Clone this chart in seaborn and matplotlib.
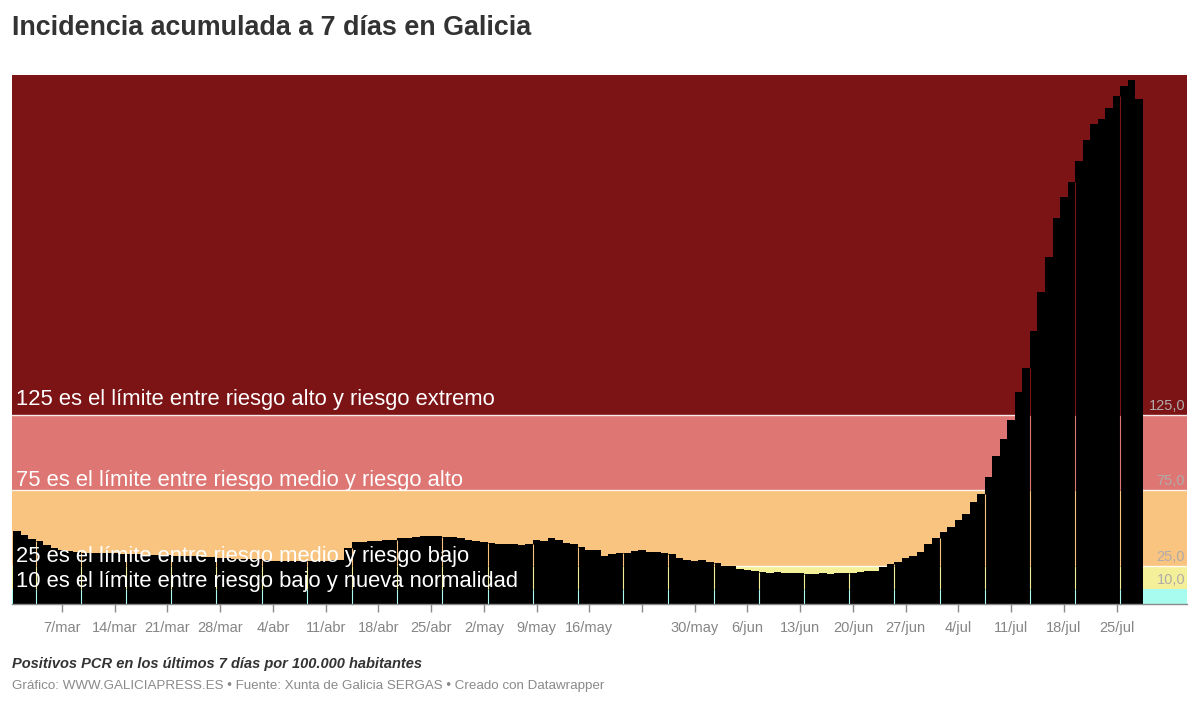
import numpy as np
import pandas as pd
import matplotlib
matplotlib.use("Agg")
import matplotlib.pyplot as plt
import seaborn as sns

# ---------------- data ----------------
incidencia = [
    48.2, 45.5, 42.9, 41.8, 39.0, 37.2, 35.8, 35.0, 34.6, 33.9,
    33.6, 33.8, 33.5, 33.4, 33.2, 32.9, 32.8, 32.7, 32.6, 32.5,
    32.2, 31.8, 31.6, 31.5, 31.4, 31.2, 30.8, 30.3, 30.1, 29.9,
    29.8, 29.6, 29.5, 29.1, 28.6, 28.4, 28.3, 28.2, 28.1, 28.3,
    28.4, 28.6, 28.8, 29.2, 37.0,
    40.7, 40.7, 41.8, 41.8, 42.2, 42.2, 43.3, 43.3, 44.2, 44.7,
    44.7, 44.7, 44.4, 44.4, 43.5, 42.5, 41.6, 40.7, 40.0, 39.8,
    39.5, 39.5, 39.3, 39.6, 42.2, 41.8, 43.5, 42.0, 40.5, 39.6,
    37.4, 35.6, 35.6, 31.7, 33.0, 33.4, 33.9, 35.2, 35.6, 34.3,
    34.3, 33.4, 32.8, 30.6, 29.0, 28.4, 28.8, 27.7, 26.9, 25.1,
    25.1, 23.3, 22.4, 21.8, 21.1, 20.2, 20.9, 20.2, 20.2, 20.2,
    19.8, 19.8, 20.5, 19.8, 20.2, 20.2,
    20.2, 20.9, 21.8, 21.8, 24.6, 26.2, 27.5, 30.4, 31.7, 34.5,
    39.6, 43.8, 47.3, 50.6, 55.4, 59.4, 67.1, 72.6, 83.6, 97.7,
    108.9, 121.5, 140.1, 155.6, 180.2, 206.1, 229.3, 255.2, 268.9, 278.8,
    292.6, 306.3, 316.8, 320.1, 327.6, 335.3, 342.1, 346.3, 333.8,
]
fechas = pd.date_range("2021-03-01", periods=len(incidencia), freq="D")

umbrales = [10, 25, 75, 125]
umbral_labels = ["10,0", "25,0", "75,0", "125,0"]
umbral_textos = [
    "10 es el límite entre riesgo bajo y nueva normalidad",
    "25 es el límite entre riesgo medio y riesgo bajo",
    "75 es el límite entre riesgo medio y riesgo alto",
    "125 es el límite entre riesgo alto y riesgo extremo",
]
tick_labels = ["7/mar", "14/mar", "21/mar", "28/mar", "4/abr", "11/abr", "18/abr",
               "25/abr", "2/may", "9/may", "16/may", "", "30/may", "6/jun",
               "13/jun", "20/jun", "27/jun", "4/jul", "11/jul", "18/jul", "25/jul"]

titulo = "Incidencia acumulada a 7 días en Galicia"
nota = "Positivos PCR en los últimos 7 días por 100.000 habitantes"
fuente = "Gráfico: WWW.GALICIAPRESS.ES • Fuente: Xunta de Galicia SERGAS • Creado con Datawrapper"

# ---------------- style ----------------
sns.set_theme(style="white")
plt.rcParams["font.family"] = ["Liberation Sans", "DejaVu Sans"]

band_colors = ["#a8fcef", "#f4f09a", "#f9c47f", "#de7673", "#7c1416"]
YMAX = 349.5

W, H = 1199, 709
fig = plt.figure(figsize=(W / 100, H / 100), dpi=100)
fig.patch.set_facecolor("white")
ax = fig.add_axes([12 / W, 105 / H, 1175 / W, 529 / H])

# background risk bands
edges = [0] + umbrales + [YMAX]
for lo, hi, c in zip(edges[:-1], edges[1:], band_colors):
    ax.axhspan(lo, hi, color=c, zorder=0, lw=0)
for u in umbrales[1:]:
    ax.axhline(u, color="white", lw=1, alpha=0.85, zorder=0.5)

# bars
df = pd.DataFrame({"fecha": fechas.strftime("%Y-%m-%d"), "incidencia": incidencia})
sns.barplot(data=df, x="fecha", y="incidencia", color="black", width=1.0,
            saturation=1, linewidth=0, edgecolor="none", ax=ax, zorder=2)

# thin rendering gaps between bar groups (background shows through)
vals = np.asarray(incidencia)
gap_idx = np.arange(3, len(vals), 6)
gap_top = np.minimum(vals[gap_idx - 1], vals[gap_idx])
for lo, hi, c in zip(edges[:-1], edges[1:], band_colors):
    m = gap_top > lo
    ax.vlines(gap_idx[m] - 0.5, lo, np.minimum(gap_top[m], hi), colors=c,
              lw=0.8, zorder=3)

n = len(vals)
ax.set_xlim(-0.63, 155.35)
ax.set_ylim(0, YMAX)

# threshold annotations
offs_px = [2, 4, 4, 10]
for u, t, o in zip(umbrales, umbral_textos, offs_px):
    ax.annotate(t, xy=(0.0034, u), xycoords=("axes fraction", "data"),
                xytext=(0, o * 0.72), textcoords="offset points",
                ha="left", va="baseline", color="white", fontsize=15.8, zorder=5)
for u, t in zip(umbrales, umbral_labels):
    ax.annotate(t, xy=(0.9983, u), xycoords=("axes fraction", "data"),
                xytext=(0, 5 * 0.72), textcoords="offset points",
                ha="right", va="baseline", color="#b0abab", fontsize=10.5, zorder=5)

# axes
ax.set_xticks(np.arange(6, n, 7))
ax.set_xticklabels(tick_labels)
ax.set_yticks([])
ax.set_xlabel("")
ax.set_ylabel("")
for s in ["left", "right", "top"]:
    ax.spines[s].set_visible(False)
ax.spines["bottom"].set_color("#8a8a8a")
ax.spines["bottom"].set_linewidth(1)
ax.spines["bottom"].set_zorder(6)
ax.tick_params(axis="x", length=6, width=1, color="#8a8a8a", labelcolor="#858585",
               labelsize=10.5, pad=6, bottom=True)

# texts
fig.text(12 / W, 1 - 28 / H, titulo, ha="left", va="center", fontsize=19.35,
         fontweight="bold", color="#333333")
fig.text(12 / W, 1 - 664 / H, nota, ha="left", va="center", fontsize=10.5,
         fontweight="bold", fontstyle="italic", color="#333333")
fig.text(12 / W, 1 - 686 / H, fuente, ha="left", va="center", fontsize=9.66,
         color="#8a8a8a")

fig.savefig("out.png", dpi=100)
